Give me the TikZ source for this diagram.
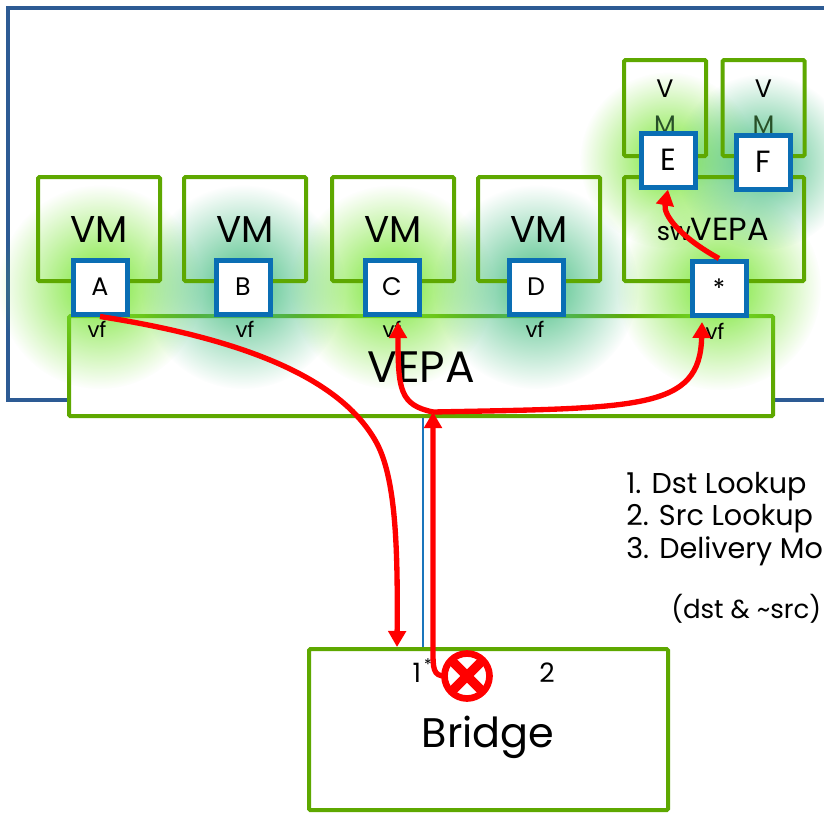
\documentclass[tikz,border=0pt]{standalone}
\usepackage{fontspec}
\setmainfont{Poppins}
\usetikzlibrary{arrows.meta,fadings}
\definecolor{gbox}{RGB}{94,168,0}
\definecolor{pblue}{RGB}{10,110,180}
\definecolor{fblue}{RGB}{45,91,148}
\definecolor{glowG}{RGB}{120,230,50}
\definecolor{glowT}{RGB}{70,190,130}
\definecolor{lblue}{RGB}{26,117,188}
\definecolor{mdark}{RGB}{40,80,40}
\tikzfading[name=glowfade, inner color=transparent!0, outer color=transparent!100]
\begin{document}
\begin{tikzpicture}[x=0.75pt,y=-0.75pt,
  gb/.style={draw=gbox, line width=3pt, rounded corners=1pt, inner sep=0pt},
  vmbox/.style={gb, minimum width=91.5pt, minimum height=78pt, font=\fontsize{28}{28}\selectfont},
  smallvm/.style={gb, minimum width=61.5pt, minimum height=72pt},
  port/.style={draw=pblue, fill=white, line width=3.75pt, minimum width=40.5pt, minimum height=40.5pt, inner sep=0pt, font=\fontsize{19}{19}\selectfont},
  bigport/.style={port, font=\fontsize{23}{23}\selectfont},
  redarrow/.style={draw=red, line width=4pt, -{Triangle[length=12pt,width=13pt]}},
  vftext/.style={font=\fontsize{16}{16}\selectfont, inner sep=0pt, anchor=base},
  listtext/.style={font=\fontsize{21.5}{21.5}\selectfont, inner sep=0pt, anchor=base west},
  glowg/.style={fill=glowG, path fading=glowfade},
  glowt/.style={fill=glowT, path fading=glowfade}
]
\useasboundingbox (0,0) rectangle (824,814);
\clip (0,0) rectangle (824,814);
\fill[white] (0,0) rectangle (824,814);

% outer frame
\draw[fblue, line width=2.4pt] (8,8) rectangle (860,400);

% VEPA box
\node[gb, fill=white, minimum width=528pt, minimum height=75pt] (vepa) at (421,366) {};

% glows
\fill[glowg] (100,287) circle (102);
\fill[glowt] (243,287) circle (102);
\fill[glowg] (392,287) circle (102);
\fill[glowt] (536,287) circle (102);
\fill[glowg] (719,288) circle (102);
\fill[glowg] (668,160) circle (88);
\fill[glowt] (763,162) circle (88);

% VM boxes
\node[vmbox] (vm1) at (99,229) {VM};
\node[vmbox] (vm2) at (245,229) {VM};
\node[vmbox] (vm3) at (393,229) {VM};
\node[vmbox] (vm4) at (539,229) {VM};

% swVEPA box and small VMs
\node[gb, minimum width=135pt, minimum height=78pt] (sw) at (714,229) {};
\node[font=\fontsize{24}{24}\selectfont, inner sep=0pt] (swt) at (713,229) {{\fontsize{19}{19}\selectfont sw}VEPA};
\node[smallvm] (svm1) at (665,108) {};
\node[smallvm] (svm2) at (763.5,108) {};
\node[font=\fontsize{19}{19}\selectfont, inner sep=0pt] (v1t) at (665,89) {V};
\node[font=\fontsize{19}{19}\selectfont, inner sep=0pt, text=mdark] (m1t) at (665,125) {M};
\node[font=\fontsize{19}{19}\selectfont, inner sep=0pt] (v2t) at (763.5,89) {V};
\node[font=\fontsize{19}{19}\selectfont, inner sep=0pt, text=mdark] (m2t) at (763.5,125) {M};

% Bridge
\node[gb, minimum width=269.25pt, minimum height=120.75pt] (bridge) at (488.5,729.5) {};
\node[font=\fontsize{31}{31}\selectfont, inner sep=0pt, anchor=base] (bridget) at (488,747) {Bridge};
\node[font=\fontsize{20}{20}\selectfont, inner sep=0pt, anchor=base] (p1) at (417,682) {1};
\node[font=\fontsize{12}{12}\selectfont, inner sep=0pt] (p1s) at (428,665) {*};
\node[font=\fontsize{20}{20}\selectfont, inner sep=0pt, anchor=base] (p2) at (547,682) {2};

% VEPA label
\node[font=\fontsize{33}{33}\selectfont, inner sep=0pt, anchor=base] (vepat) at (421,382) {VEPA};

% ports
\node[port] (A) at (100,287) {A};
\node[port] (B) at (243,287) {B};
\node[port] (C) at (392,287) {C};
\node[port] (D) at (536,287) {D};
\node[port] (star) at (719,288) {*};
\node[bigport] (E) at (668,160) {E};
\node[bigport] (F) at (763,162) {F};

% vf labels
\node[vftext] (vfA) at (97,337) {vf};
\node[vftext] (vfB) at (245,337) {vf};
\node[vftext] (vfC) at (392,337) {vf};
\node[vftext] (vfD) at (535,337) {vf};
\node[vftext] (vfS) at (715,339) {vf};

% list
\node[listtext] (l1) at (626,493) {1. Dst Lookup};
\node[listtext] (l2) at (626,525) {2. Src Lookup};
\node[listtext] (l3) at (626,558) {3. Delivery Mo};
\node[listtext, font=\fontsize{19.5}{19.5}\selectfont] (l4) at (671,618) {(dst \& \textasciitilde src)};

% blue link
\coordinate (bl) at (423,0);
\draw[lblue, line width=1.5pt] (vepa.south -| bl) -- (bridge.north -| bl);

% red arrows
\coordinate (b1) at (397,647);
\coordinate (v1) at (433,412);
\coordinate (cv) at (398,322);
\coordinate (sv) at (702,322);
\coordinate (xs) at (445,676);
\draw[redarrow] (A.south) .. controls (250,340) and (340,380) .. (375,440) .. controls (395,474) and (398,540) .. (b1);
\draw[redarrow] (xs) .. controls (433,676) and (433,668) .. (433,650) -- (v1);
\draw[redarrow] (v1) .. controls (400,405) and (398,390) .. (cv);
\draw[redarrow] (v1) .. controls (640,408) and (700,410) .. (sv);
\draw[redarrow] (star.north) .. controls (680,237) and (663,215) .. (E.south);

% blocked symbol
\node[circle, draw=red, fill=white, line width=5pt, minimum size=33.75pt, inner sep=0pt] (xc) at (467,676) {};
\begin{scope}
  \clip (xc.center) circle (20);
  \draw[red, line width=7pt] (447,656) -- (487,696) (487,656) -- (447,696);
\end{scope}
\end{tikzpicture}
\end{document}
